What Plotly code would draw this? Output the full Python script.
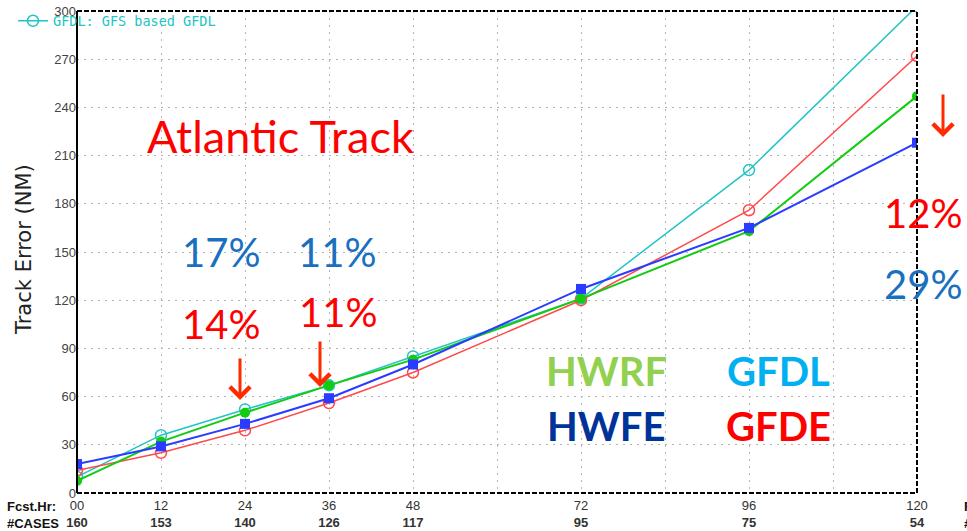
import plotly.graph_objects as go

# ---- data ----
hours = [0, 12, 24, 36, 48, 72, 96, 120]
hour_labels = ["00", "12", "24", "36", "48", "72", "96", "120"]
cases = [160, 153, 140, 126, 117, 95, 75, 54]
gfdl = [10, 36, 52, 67, 85, 121, 201, 303]     # cyan, open circle
gfde = [14, 25, 39, 56, 75, 120, 176, 272]     # red, open circle
hwrf = [7.5, 32, 50, 67, 83, 121, 163, 247]    # green, filled circle
hwfe = [18, 29, 43, 59, 80, 127, 165, 218]     # blue, filled square
y_ticks = [0, 30, 60, 90, 120, 150, 180, 210, 240, 270, 300]

CYAN = "#22c4c4"
RED = "#ff4a4a"
GREEN = "#12cc12"
BLUE = "#2a3cff"

fig = go.Figure()
fig.add_trace(go.Scatter(x=hours, y=gfdl, mode="lines+markers", name="GFDL: GFS based GFDL",
                         line=dict(color=CYAN, width=1.5),
                         marker=dict(symbol="circle-open", size=11, color=CYAN, line=dict(width=1.5)),
                         showlegend=True))
fig.add_trace(go.Scatter(x=hours, y=gfde, mode="lines+markers", name="GFDE",
                         line=dict(color=RED, width=1.5),
                         marker=dict(symbol="circle-open", size=11, color=RED, line=dict(width=1.5)),
                         showlegend=False))
fig.add_trace(go.Scatter(x=hours, y=hwrf, mode="lines+markers", name="HWRF",
                         line=dict(color=GREEN, width=2),
                         marker=dict(symbol="circle", size=10, color=GREEN),
                         showlegend=False))
fig.add_trace(go.Scatter(x=hours, y=hwfe, mode="lines+markers", name="HWFE",
                         line=dict(color=BLUE, width=2),
                         marker=dict(symbol="square", size=10, color=BLUE),
                         showlegend=False))

W, H = 967, 531
L, R, T, B = 77, 50, 11, 38
PW, PH = W - L - R, H - T - B


def px(xp):
    return (xp - L) / PW


def py(yp):
    return (H - B - yp) / PH


tick_text = [f"{h}<br><b>{c}</b>" for h, c in zip(hour_labels, cases)]

grid = dict(showgrid=True, gridcolor="#b4b4b4", gridwidth=1, griddash="2px,5px")

fig.update_xaxes(range=[0, 120], tickvals=hours, ticktext=tick_text, ticks="",
                 tickfont=dict(family="Liberation Sans", size=13, color="#333"),
                 ticklabelstandoff=3,
                 zeroline=False, showline=False, automargin=False,
                 minor=dict(dtick=12, tick0=0, showgrid=True, gridcolor="#b4b4b4",
                            griddash="2px,5px", ticks=""),
                 **grid)
fig.update_yaxes(range=[0, 300], tickvals=y_ticks, ticks="",
                 tickfont=dict(family="Liberation Sans", size=13, color="#444"),
                 zeroline=False, showline=False, automargin=False, **grid)

shapes = [
    dict(type="line", xref="paper", yref="paper", x0=0, x1=0, y0=0, y1=1,
         line=dict(color="black", width=2)),
    dict(type="line", xref="paper", yref="paper", x0=0, x1=1, y0=1, y1=1,
         line=dict(color="black", width=2, dash="5px,2px")),
    dict(type="line", xref="paper", yref="paper", x0=0, x1=1, y0=0, y1=0,
         line=dict(color="black", width=2, dash="5px,2px")),
    dict(type="line", xref="paper", yref="paper", x0=1, x1=1, y0=0, y1=1,
         line=dict(color="black", width=2, dash="5px,2px")),
]

CAL = "Lato"
BLUE_T = "#1a70c0"
ann = []


def text(s, x, y, color, size, bold=False, family=CAL, xanchor="center", **kw):
    ann.append(dict(text=f"<b>{s}</b>" if bold else s, x=px(x), y=py(y), xref="paper", yref="paper",
                    showarrow=False, xanchor=xanchor, yanchor="middle",
                    font=dict(family=family, size=size, color=color), **kw))


text("Atlantic Track", 280, 136, "#ff0000", 45)
text("17%", 221, 252, BLUE_T, 40)
text("11%", 337, 252, BLUE_T, 40)
text("14%", 221, 324, "#ff0000", 40)
text("11%", 338, 312, "#ff0000", 40)
text("12%", 923, 213, "#ff0000", 40)
text("29%", 923, 284, BLUE_T, 40)
text("HWRF", 606, 371, "#92d050", 40, bold=True)
text("HWFE", 606, 426, "#003399", 40, bold=True)
text("GFDL", 778, 371, "#00b0f0", 40, bold=True)
text("GFDE", 778, 426, "#ff0000", 40, bold=True)

# bottom row labels
text("Fcst.Hr:", 5, 507, "#111", 13, bold=True, family="Liberation Sans", xanchor="left")
text("#CASES", 5, 523, "#111", 13, bold=True, family="Liberation Sans", xanchor="left")
text("Fcst.Hr:", 962, 507, "#111", 13, bold=True, family="Liberation Sans", xanchor="left")
text("#CASES", 962, 523, "#111", 13, bold=True, family="Liberation Sans", xanchor="left")

# y-axis title
ann.append(dict(text="Track Error (NM)", x=px(24), y=py(250), xref="paper", yref="paper",
                showarrow=False, textangle=-90, xanchor="center", yanchor="middle",
                font=dict(family="DejaVu Sans", size=21, color="#222")))

# arrows
for (ax_, tail, tip) in [(240, 357, 400), (320, 340, 387), (943, 93, 137)]:
    ann.append(dict(text="", x=px(ax_), y=py(tip), xref="paper", yref="paper",
                    ax=0, ay=-(tip - tail), showarrow=True, arrowhead=4,
                    arrowsize=1.3, arrowwidth=3, arrowcolor="#ff2a00"))

fig.update_layout(
    width=W, height=H,
    margin=dict(l=L, r=R, t=T, b=B, autoexpand=False),
    paper_bgcolor="white", plot_bgcolor="white",
    shapes=shapes, annotations=ann,
    legend=dict(x=px(13), y=py(21), xanchor="left", yanchor="middle",
                font=dict(family="DejaVu Sans Mono", size=13.5, color=CYAN),
                bgcolor="rgba(0,0,0,0)", itemwidth=30, borderwidth=0),
    showlegend=True,
)

fig.write_html("out.html", config={"displayModeBar": False},
               post_script="document.body.style.margin='0px';")
